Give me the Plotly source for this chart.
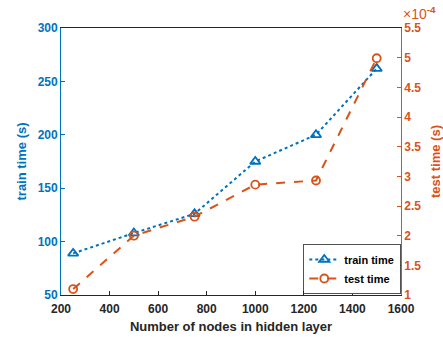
import numpy as np
import plotly.graph_objects as go

# Hidden-layer sizes and measured timings
nodes = [250, 500, 750, 1000, 1250, 1500]
train_time_s = [89, 108, 126, 175, 200, 262]
test_time_s = [1.10e-4, 2.00e-4, 2.32e-4, 2.86e-4, 2.93e-4, 4.99e-4]

x_ticks = [200, 400, 600, 800, 1000, 1200, 1400, 1600]
left_ticks = [50, 100, 150, 200, 250, 300]
right_ticks = [1, 1.5, 2, 2.5, 3, 3.5, 4, 4.5, 5, 5.5]
right_exponent = -4

BLUE = "#0072BD"
ORANGE = "#D95319"
DARK = "#262626"
FONT = "Liberation Sans, Arial, sans-serif"

scale = 10.0 ** (-right_exponent)
test_scaled = np.array(test_time_s) * scale

fig = go.Figure()
fig.add_trace(go.Scatter(
    x=nodes, y=train_time_s, name="train time", mode="lines+markers",
    line=dict(color=BLUE, width=2, dash="dot"),
    marker=dict(symbol="triangle-up-open", size=9, color=BLUE, line=dict(width=1.8, color=BLUE)),
    yaxis="y",
))
fig.add_trace(go.Scatter(
    x=nodes, y=test_scaled, name="test time", mode="lines+markers",
    line=dict(color=ORANGE, width=2, dash="dash"),
    marker=dict(symbol="circle-open", size=8, color=ORANGE, line=dict(width=1.8, color=ORANGE)),
    yaxis="y2",
))

tick_font = dict(family=FONT, size=12, weight="bold")

fig.update_layout(
    width=443, height=337,
    margin=dict(l=61, r=42, t=28, b=42, autoexpand=False),
    paper_bgcolor="white", plot_bgcolor="white",
    font=dict(family=FONT),
    showlegend=True,
    legend=dict(
        x=0.9985, y=0.003, xanchor="right", yanchor="bottom",
        bgcolor="white", bordercolor="#262626", borderwidth=0.8,
        font=dict(family=FONT, size=11, color="black", weight="bold"),
        itemwidth=30, tracegroupgap=0,
    ),
    xaxis=dict(
        range=[200, 1600], tickvals=x_ticks, ticks="inside", ticklen=4,
        tickcolor=DARK, linecolor=DARK, linewidth=0.8, showline=True, mirror=True,
        showgrid=False, zeroline=False, ticklabelstandoff=3, automargin=False,
        tickfont=dict(tick_font, color=DARK),
        title=dict(text="Number of nodes in hidden layer",
                   font=dict(family=FONT, size=13, color=DARK, weight="bold"), standoff=6),
    ),
    yaxis=dict(
        range=[50, 300], tickvals=left_ticks, ticks="inside", ticklen=4,
        tickcolor=BLUE, linecolor=BLUE, linewidth=0.8, showline=True,
        showgrid=False, zeroline=False, automargin=False,
        tickfont=dict(tick_font, color=BLUE),
        title=dict(text="train time (s)", font=dict(family=FONT, size=13, color=BLUE, weight="bold"),
                   standoff=8),
    ),
    yaxis2=dict(
        range=[1, 5.5], tickvals=right_ticks, ticktext=[f"{t:g}" for t in right_ticks],
        overlaying="y", side="right", ticks="inside", ticklen=4,
        tickcolor=ORANGE, linecolor=ORANGE, linewidth=0.8, showline=True,
        showgrid=False, zeroline=False, automargin=False,
        tickfont=dict(tick_font, color=ORANGE),
        title=dict(text="test time (s)", font=dict(family=FONT, size=13, color=ORANGE, weight="bold"),
                   standoff=16),
    ),
    annotations=[dict(
        text=f"×10<sup><b>{right_exponent}</b></sup>", xref="paper", yref="paper",
        x=1.0, y=1.0, xanchor="left", yanchor="bottom", yshift=4, showarrow=False,
        font=dict(family=FONT, size=14, color=ORANGE),
    )],
)

fig.write_html("out.html")
